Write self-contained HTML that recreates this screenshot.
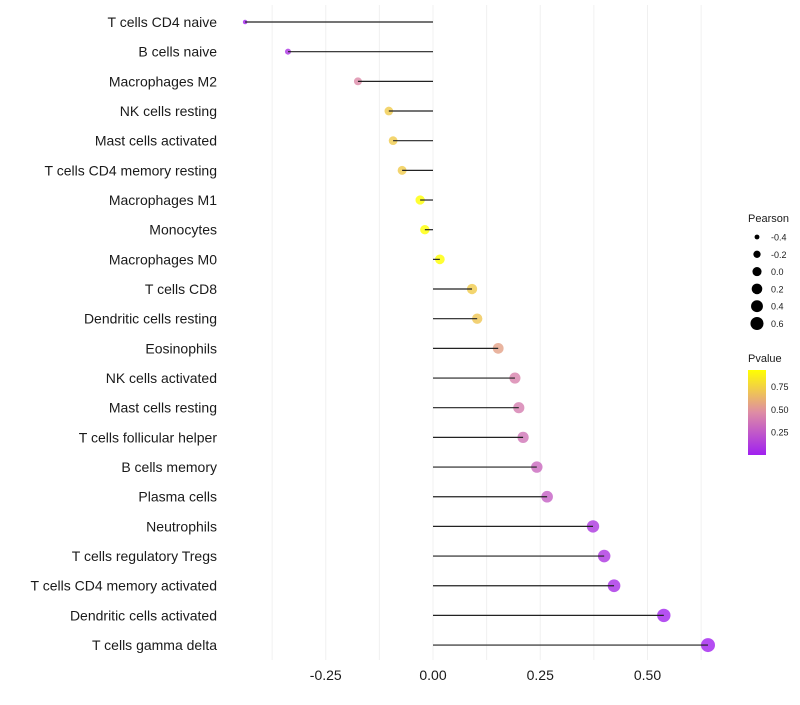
<!DOCTYPE html>
<html><head><meta charset="utf-8"><style>
body{margin:0;background:#fff;font-family:"Liberation Sans",sans-serif}
</style></head><body>
<svg id="chart" width="800" height="700" xmlns="http://www.w3.org/2000/svg"></svg>
<script>
const categories=["T cells CD4 naive","B cells naive","Macrophages M2","NK cells resting","Mast cells activated","T cells CD4 memory resting","Macrophages M1","Monocytes","Macrophages M0","T cells CD8","Dendritic cells resting","Eosinophils","NK cells activated","Mast cells resting","T cells follicular helper","B cells memory","Plasma cells","Neutrophils","T cells regulatory  Tregs ","T cells CD4 memory activated","Dendritic cells activated","T cells gamma delta"];
const pearson=[-0.438,-0.338,-0.175,-0.103,-0.093,-0.072,-0.030,-0.019,0.016,0.091,0.103,0.152,0.191,0.200,0.210,0.242,0.266,0.373,0.399,0.422,0.538,0.641];
const pvalues=[0.01,0.08,0.45,0.72,0.72,0.72,0.95,0.95,0.95,0.72,0.70,0.55,0.42,0.40,0.36,0.31,0.27,0.10,0.09,0.06,0.02,0.005];
const xTicks=[-0.25,0,0.25,0.5];
const xTickLabels=["-0.25","0.00","0.25","0.50"];
const sizeLegend=[-0.4,-0.2,0.0,0.2,0.4,0.6];
const sizeLegendLabels=["-0.4","-0.2","0.0","0.2","0.4","0.6"];
const pLegend=[0.75,0.5,0.25];
const pLegendLabels=["0.75","0.50","0.25"];

const NS="http://www.w3.org/2000/svg";
const svg=document.getElementById('chart');
function mk(t,a,p){const e=document.createElementNS(NS,t);for(const k in a)e.setAttribute(k,a[k]);(p||svg).appendChild(e);return e;}
const X=v=>433+v*429;
const Y=i=>22+i*29.67;
const R=v=>Math.sqrt(Math.max(2,22.9+40.8*v));
function col(p){const t=Math.max(0,Math.min(1,p/0.93));
 const a=[160,32,240],m=[222,140,165],b=[255,255,0];let c;
 if(t<0.5){const u=t/0.5;c=a.map((x,i)=>x+(m[i]-x)*u);}else{const u=(t-0.5)/0.5;c=m.map((x,i)=>x+(b[i]-x)*u);}
 return `rgb(${c.map(Math.round).join(',')})`;}

for(let v=-0.375;v<=0.7;v+=0.125){
 const g=mk('line',{x1:X(v),x2:X(v),y1:5,y2:660,stroke:'#f0f0f0','stroke-width':1});
 
 
}
categories.forEach((c,i)=>{
 const y=Y(i);
 const t=mk('text',{x:217,y:y+5,'text-anchor':'end','font-size':14,fill:'#1a1a1a'});t.textContent=c;
 
 
 const p=mk('circle',{cx:X(pearson[i]),cy:y,r:R(pearson[i]),fill:col(pvalues[i]),'fill-opacity':0.8});
 
 
 const l=mk('line',{x1:X(0),x2:X(pearson[i]),y1:y,y2:y,stroke:'#222','stroke-width':1.2});
 
 
});
xTicks.forEach((v,i)=>{
 const t=mk('text',{x:X(v),y:680,'text-anchor':'middle','font-size':14,fill:'#1a1a1a'});t.textContent=xTickLabels[i];
 
 
});
let tt=mk('text',{x:748,y:222,'font-size':11,fill:'#1a1a1a'});tt.textContent='Pearson';


sizeLegend.forEach((v,i)=>{
 const y=237+i*17.3;
 const c=mk('circle',{cx:757,cy:y,r:Math.max(2,R(v)*0.95),fill:'#000'});
 
 
 const t=mk('text',{x:771,y:y+3.5,'font-size':9,fill:'#1a1a1a'});t.textContent=sizeLegendLabels[i];
 
 
});
tt=mk('text',{x:748,y:362,'font-size':11,fill:'#1a1a1a'});tt.textContent='Pvalue';


const defs=mk('defs',{});const gr=mk('linearGradient',{id:'pg',x1:0,y1:1,x2:0,y2:0},defs);
[0,0.25,0.5,0.75,1].forEach(s=>mk('stop',{offset:s,'stop-color':col(s*0.93)},gr));
const bar=mk('rect',{x:748,y:370,width:18,height:85,fill:'url(#pg)'});


const PY=p=>455-p*(85/0.93);
pLegend.forEach((v,i)=>{
 const t=mk('text',{x:771,y:PY(v)+3.5,'font-size':9,fill:'#1a1a1a'});t.textContent=pLegendLabels[i];
 
 
});
</script>
</body></html>
